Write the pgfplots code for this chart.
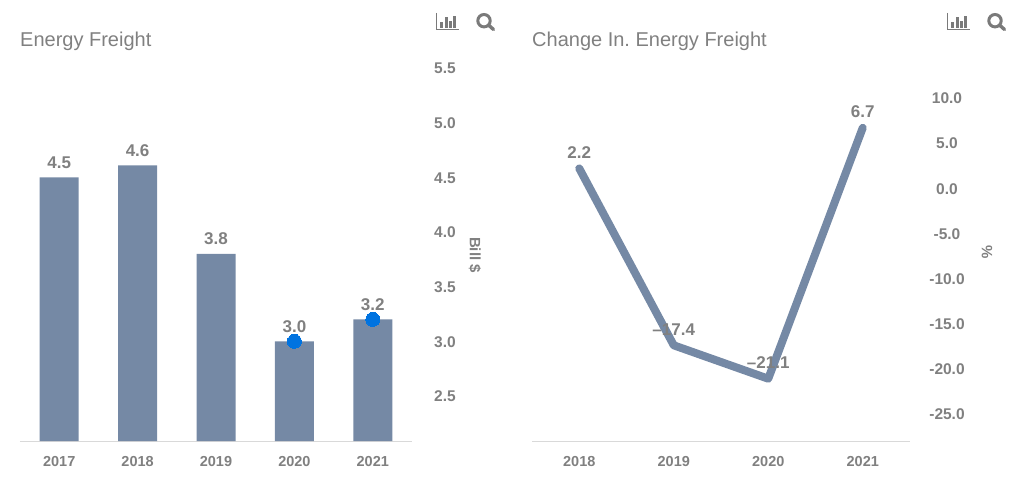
\documentclass[border=0pt]{standalone}
\usepackage{fontspec}
\setmainfont{Liberation Sans}
\usepackage{pgfplots}
\pgfplotsset{compat=1.18}

\definecolor{barblue}{HTML}{7589A5}
\definecolor{dotblue}{HTML}{0073E0}
\definecolor{txtgray}{HTML}{808080}
\definecolor{icongray}{HTML}{7A7A7A}
\definecolor{baseline}{HTML}{D9D9D9}

\pgfplotsset{
  panel/.style={
    scale only axis,
    anchor=south west,
    clip=false,
    axis x line=bottom,
    axis y line=right,
    axis line style={-},
    x axis line style={draw=baseline, line width=1pt},
    y axis line style={draw=none},
    major tick length=0pt,
    xtick=data,
    xticklabel style={font=\fontsize{14.5}{14.5}\selectfont\bfseries, text=txtgray, anchor=center, yshift=-21pt},
    yticklabel style={font=\fontsize{15.5}{15.5}\selectfont\bfseries, text=txtgray, anchor=center, yshift=-0.5pt},
    nodes near coords style={font=\fontsize{17}{17}\selectfont\bfseries, text=txtgray},
  }
}

\newcommand{\charticons}[1]{%
  \begin{scope}[xshift=#1]
    \draw[icongray, line width=0.9pt] (436pt,472pt) -- (436pt,455.5pt) -- (459pt,455.5pt);
    \fill[icongray] (440pt,457pt) rectangle (443.2pt,463pt);
    \fill[icongray] (444.8pt,457pt) rectangle (447.8pt,468pt);
    \fill[icongray] (449pt,457pt) rectangle (452pt,464pt);
    \fill[icongray] (453pt,457pt) rectangle (456pt,469pt);
    \draw[icongray, line width=3pt] (484pt,464.3pt) circle (6.2pt);
    \draw[icongray, line width=3.4pt, line cap=round] (489pt,459.5pt) -- (493.5pt,455.5pt);
  \end{scope}%
}

\begin{document}
\frenchspacing
\begin{tikzpicture}[x=1pt,y=1pt]
\path[use as bounding box] (0,0) rectangle (1024,485);

\begin{axis}[panel,
    at={(20pt,44pt)},
    width=392pt, height=373pt,
    xmin=-0.5, xmax=4.5,
    ymin=2.088, ymax=5.5,
    xticklabels={2017,2018,2019,2020,2021},
    ytick={2.5,3,3.5,4,4.5,5,5.5},
    yticklabels={2.5,3.0,3.5,4.0,4.5,5.0,5.5},
    yticklabel style={xshift=33pt},
    ybar, bar width=39pt,
  ]
  \addplot[fill=barblue, draw=none,
     nodes near coords, point meta=explicit symbolic,
     nodes near coords style={anchor=center, yshift=15pt}]
     table[meta=lab] {
     x y lab
     0 4.5 4.5
     1 4.61 4.6
     2 3.8 3.8
     3 3.0 3.0
     4 3.2 3.2
  };
  \addplot[only marks, mark=*, mark size=7pt, bar shift=0pt, draw=dotblue, fill=dotblue,
     mark options={fill=dotblue, draw=dotblue, line width=0pt}, forget plot]
     coordinates {(3,3.0) (4,3.2)};
\end{axis}

\begin{axis}[panel,
    at={(532pt,44pt)},
    width=378pt, height=343pt,
    xmin=-0.5, xmax=3.5,
    ymin=-28, ymax=10,
    xticklabels={2018,2019,2020,2021},
    ytick={-25,-20,-15,-10,-5,0,5,10},
    yticklabels={-25.0,-20.0,-15.0,-10.0,-5.0,0.0,5.0,10.0},
    yticklabel style={xshift=37pt},
  ]
  \addplot[barblue, line width=8pt, line join=round, line cap=round,
     nodes near coords, point meta=explicit symbolic,
     nodes near coords style={anchor=center, yshift=16pt}]
     table[meta=lab] {
     x y lab
     0 2.2 2.2
     1 -17.4 –17.4
     2 -21.1 –21.1
     3 6.7 6.7
  };
\end{axis}

% titles, unit labels and toolbar icons
\node[anchor=base west, inner sep=0pt, text=txtgray, font=\fontsize{20}{20}\selectfont] at (20,438) {Energy Freight};
\node[anchor=base west, inner sep=0pt, text=txtgray, font=\fontsize{20}{20}\selectfont] at (532,438) {Change In. Energy Freight};
\node[rotate=-90, text=txtgray, font=\fontsize{15}{15}\selectfont\bfseries] at (475,230) {Bill \$};
\node[rotate=-90, text=txtgray, font=\fontsize{15}{15}\selectfont\bfseries] at (987,233) {\%};
\charticons{0pt}
\charticons{511pt}
\end{tikzpicture}
\end{document}
